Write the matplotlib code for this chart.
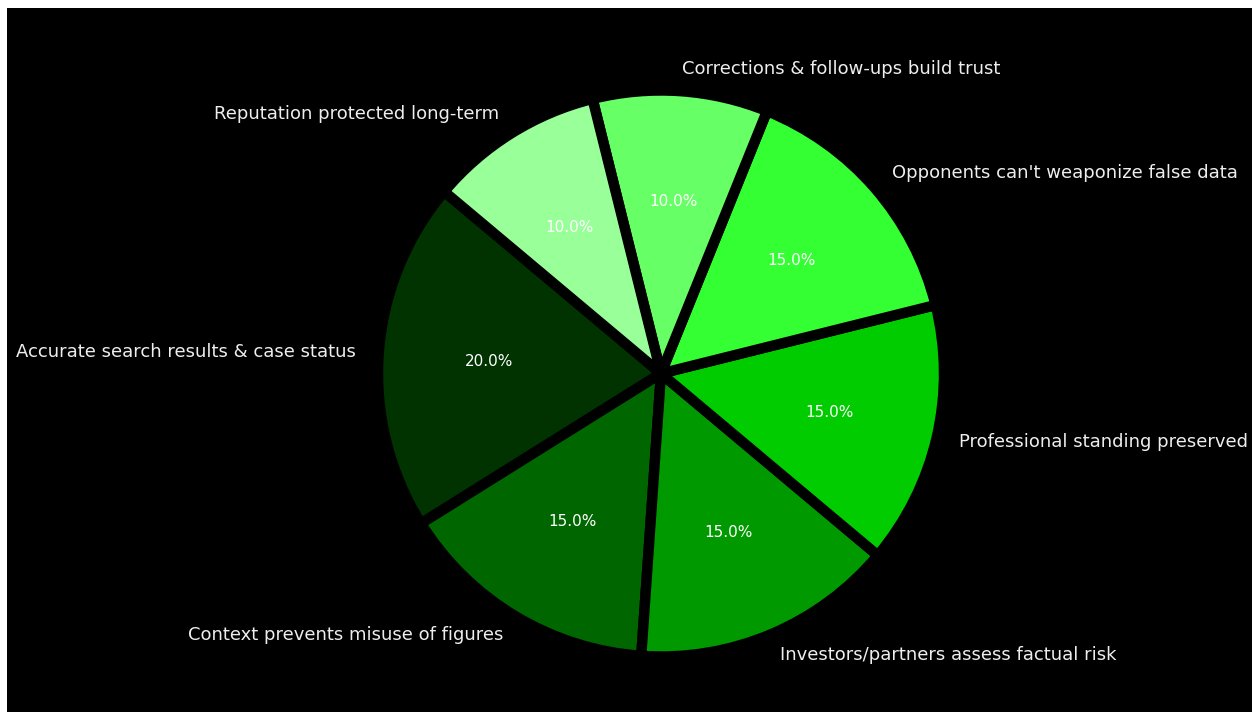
import matplotlib
matplotlib.use("Agg")
import matplotlib.pyplot as plt
from matplotlib.patches import Rectangle

labels = [
    "Accurate search results & case status",
    "Context prevents misuse of figures",
    "Investors/partners assess factual risk",
    "Professional standing preserved",
    "Opponents can't weaponize false data",
    "Corrections & follow-ups build trust",
    "Reputation protected long-term",
]
shares = [20, 15, 15, 15, 15, 10, 10]
colors = ["#003300", "#006600", "#009900", "#00cc00", "#33ff33", "#66ff66", "#99ff99"]

W, H = 1252, 713
fig = plt.figure(figsize=(W / 100, H / 100), dpi=100, facecolor="white")

# black panel with a thin white margin on the left/top/bottom
fig.patches.append(Rectangle((7 / W, 1 / H), 1 - 7 / W, 1 - 9 / H,
                             transform=fig.transFigure, facecolor="black",
                             edgecolor="none", zorder=-10))

# axes sized so the pie radius is ~283 px, centred at (661, 373.5)
r_px = 283
cx, cy = 661, H - 373.5
lim = 1.2
side = 2 * lim * r_px
ax = fig.add_axes([(cx - side / 2) / W, (cy - side / 2) / H, side / W, side / H])
ax.set_facecolor("none")
ax.set_zorder(5)

wedges, texts, autotexts = ax.pie(
    shares, labels=labels, colors=colors, startangle=140,
    autopct="%1.1f%%", pctdistance=0.61, labeldistance=1.08,
    wedgeprops=dict(edgecolor="black", linewidth=7.5),
    textprops=dict(color="#eeeeee", fontsize=13),
)
for t in autotexts:
    t.set_color("white")
    t.set_fontsize(11)

ax.set_xlim(-lim, lim)
ax.set_ylim(-lim, lim)
ax.set_aspect("equal")
ax.axis("off")

fig.savefig("out.png", dpi=100, facecolor="white")
